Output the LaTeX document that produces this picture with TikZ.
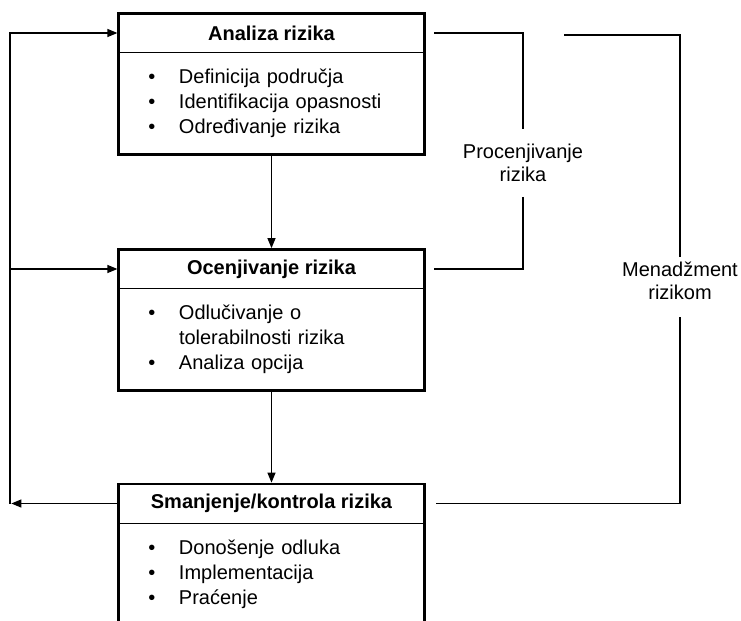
\documentclass[tikz,border=0pt]{standalone}
\usepackage{fontspec}
\setmainfont{Liberation Sans}
\usetikzlibrary{positioning,arrows.meta}
\newcommand{\bul}{\makebox[23pt][l]{\textbullet}}
\newcommand{\ind}{\hspace*{23pt}}

\begin{document}
\begin{tikzpicture}[
x=0.75pt, y=-0.75pt,
head/.style={
minimum width=228.75pt,
minimum height=28.9pt,
inner sep=0pt,
font=\fontsize{15}{18}\selectfont\bfseries
},
body/.style={
text width=184.75pt,
inner xsep=22pt,
inner ysep=0pt,
minimum height=75.75pt,
align=left,
font=\fontsize{15}{18.75}\selectfont
},
label/.style={
align=center,
inner xsep=2pt,
inner ysep=11pt,
font=\fontsize{15}{17.25}\selectfont
},
frame/.style={line width=2.2pt},
sep/.style={line width=0.75pt},
line/.style={line width=0.9pt},
arrow/.style={line, -{Triangle[length=7.5pt,width=6pt]}, shorten >=1pt}
]
\useasboundingbox (0,0) rectangle (741,620);
\clip (0,0) rectangle (741,620);

\node[head] (analiza) at (271.5,33) {Analiza rizika};
\node[body, below=0pt of analiza] (analizaTxt)
{\bul Definicija područja\\
\bul Identifikacija opasnosti\\
\bul Određivanje rizika};

\node[head] (ocena) at (271.5,269) {Ocenjivanje rizika};
\node[body, below=0pt of ocena] (ocenaTxt)
{\bul Odlučivanje o\\
\ind tolerabilnosti rizika\\
\bul Analiza opcija};

\node[head] (smanjenje) at (271.5,503.5) {Smanjenje/kontrola rizika};
\node[body, below=0pt of smanjenje] (smanjenjeTxt)
{\bul Donošenje odluka\\
\bul Implementacija\\
\bul Praćenje};

\draw[frame] (analiza.north west) rectangle (analizaTxt.south east);
\draw[frame] (ocena.north west) rectangle (ocenaTxt.south east);
\draw[frame] (smanjenje.north west) rectangle (smanjenjeTxt.south east);
\draw[sep] (analiza.south west) -- (analiza.south east);
\draw[sep] (ocena.south west) -- (ocena.south east);
\draw[sep] (smanjenje.south west) -- (smanjenje.south east);

\node[label] (proc) at (523,163) {Procenjivanje\\rizika};
\node[label, inner ysep=4pt] (men) at (680,281) {Menadžment\\rizikom};
\coordinate (ret) at (10,503.5);
\coordinate (menTop) at (564,35);

\draw[arrow] (analizaTxt.south) -- (ocena.north);
\draw[arrow] (ocenaTxt.south) -- (smanjenje.north);
\draw[arrow] (smanjenje.west) -- (ret);
\draw[arrow] (ret) |- (analiza.west);
\draw[arrow] (ret |- ocena.west) -- (ocena.west);

\draw[line] ([xshift=7.5pt]analiza.east) -| (proc.north);
\draw[line] (proc.south) |- ([xshift=7.5pt]ocena.east);
\draw[line] (menTop) -| (men.north);
\draw[line] ([yshift=-9pt]men.south) |- ([xshift=9pt]smanjenje.east);
\end{tikzpicture}
\end{document}
